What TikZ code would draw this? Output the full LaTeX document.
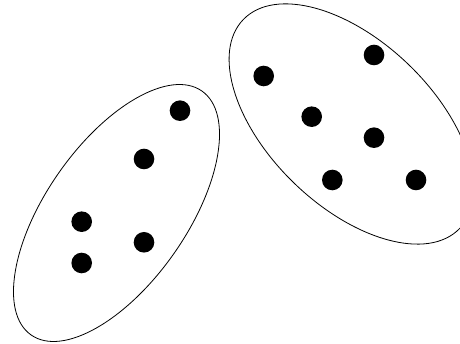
\documentclass[tikz,border=0pt]{standalone}
\begin{document}
\begin{tikzpicture}[x=1pt,y=1pt,
  dot/.style={circle,fill=black,inner sep=0pt,minimum size=20.6pt},
  hull/.style={draw=black,line width=0.8pt}]
\clip (0,0) rectangle (460,344);
\fill[white] (0,0) rectangle (460,344);
% left group
\draw[hull] (116.5,131) ellipse [x radius=148.9pt, y radius=70.3pt, rotate=55];
\node[dot] (l1) at (180,233.3) {};
\node[dot] (l2) at (144,185) {};
\node[dot] (l3) at (81.7,122.3) {};
\node[dot] (l4) at (81.7,81) {};
\node[dot] (l5) at (144,101.7) {};
% right group
\draw[hull] (351.5,220) ellipse [x radius=150.4pt, y radius=82.4pt, rotate=-44];
\node[dot] (r1) at (374,289) {};
\node[dot] (r2) at (263.7,268) {};
\node[dot] (r3) at (311.7,227.3) {};
\node[dot] (r4) at (374,206.3) {};
\node[dot] (r5) at (332.3,164) {};
\node[dot] (r6) at (416,164) {};
\end{tikzpicture}
\end{document}
